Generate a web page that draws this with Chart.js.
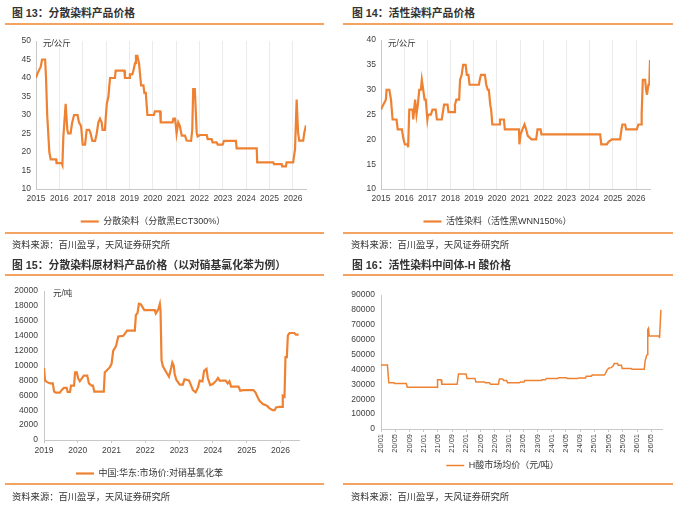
<!DOCTYPE html>
<html>
<head>
<meta charset="utf-8">
<script src="https://cdn.jsdelivr.net/npm/chart.js@4.4.1/dist/chart.umd.min.js"></script>
<style>
body { margin: 0; background: #fff; width: 697px; height: 507px; position: relative; overflow: hidden;
  font-family: 'Liberation Sans', 'Noto Sans CJK SC', sans-serif; color: #333; }
.title { position: absolute; font-size: 10.8px; font-weight: bold; line-height: 16px; white-space: nowrap; color: #333; }
.rule { position: absolute; height: 2px; background: #f3a462; }
.src { position: absolute; font-size: 9.3px; line-height: 14px; white-space: nowrap; color: #333; }
.unit { position: absolute; font-size: 8.5px; line-height: 14px; white-space: nowrap; color: #333; }
.box { position: absolute; }
</style>
</head>
<body>

<div class="title" style="left:12px;top:5px">图 13：分散染料产品价格</div>
<div class="rule" style="left:5px;top:23px;width:319px"></div>
<div class="box" style="left:0;top:30px;width:320px;height:206px"><canvas id="c1"></canvas></div>
<div class="unit" style="left:43px;top:36px">元/公斤</div>
<div class="rule" style="left:5px;top:232px;width:319px"></div>
<div class="src" style="left:12px;top:238px">资料来源：百川盈孚，天风证券研究所</div>

<div class="title" style="left:352px;top:5px">图 14：活性染料产品价格</div>
<div class="rule" style="left:343px;top:23px;width:330px"></div>
<div class="box" style="left:345px;top:30px;width:320px;height:206px"><canvas id="c2"></canvas></div>
<div class="unit" style="left:388px;top:36px">元/公斤</div>
<div class="rule" style="left:343px;top:232px;width:330px"></div>
<div class="src" style="left:351px;top:238px">资料来源：百川盈孚，天风证券研究所</div>

<div class="title" style="left:12px;top:257px">图 15：分散染料原材料产品价格（以对硝基氯化苯为例）</div>
<div class="rule" style="left:5px;top:274px;width:319px"></div>
<div class="box" style="left:0;top:280px;width:320px;height:208px"><canvas id="c3"></canvas></div>
<div class="unit" style="left:53px;top:286px">元/吨</div>
<div class="rule" style="left:5px;top:483px;width:319px"></div>
<div class="src" style="left:12px;top:490px">资料来源：百川盈孚，天风证券研究所</div>

<div class="title" style="left:352px;top:257px">图 16：活性染料中间体-H 酸价格</div>
<div class="rule" style="left:343px;top:274px;width:330px"></div>
<div class="box" style="left:343px;top:280px;width:332px;height:200px"><canvas id="c4"></canvas></div>
<div class="rule" style="left:343px;top:483px;width:330px"></div>
<div class="src" style="left:351px;top:490px">资料来源：百川盈孚，天风证券研究所</div>

<script>
// 图13 分散染料（分散黑ECT300%），元/公斤
const p1Dates = [2015.00, 2015.05, 2015.12, 2015.20, 2015.26, 2015.39, 2015.43, 2015.48, 2015.57, 2015.63,
  2015.86, 2015.88, 2016.10, 2016.13, 2016.17, 2016.27, 2016.34, 2016.38, 2016.48, 2016.55,
  2016.63, 2016.78, 2016.84, 2016.93, 2017.00, 2017.10, 2017.17, 2017.28, 2017.34, 2017.41,
  2017.53, 2017.60, 2017.67, 2017.74, 2017.81, 2017.85, 2017.95, 2018.03, 2018.10, 2018.17,
  2018.38, 2018.41, 2018.78, 2018.81, 2018.99, 2019.02, 2019.12, 2019.17, 2019.24, 2019.28,
  2019.34, 2019.41, 2019.47, 2019.50, 2019.60, 2019.64, 2019.70, 2019.77, 2020.05, 2020.09,
  2020.31, 2020.34, 2020.85, 2020.88, 2020.95, 2020.99, 2021.02, 2021.09, 2021.16, 2021.24,
  2021.38, 2021.45, 2021.64, 2021.69, 2021.73, 2021.80, 2021.88, 2021.92, 2022.02, 2022.31,
  2022.35, 2022.52, 2022.56, 2022.73, 2022.78, 2022.99, 2023.05, 2023.56, 2023.59, 2024.45,
  2024.47, 2025.16, 2025.19, 2025.52, 2025.54, 2025.70, 2025.73, 2026.01, 2026.09, 2026.16,
  2026.22, 2026.27, 2026.44, 2026.49, 2026.56];
const p1Prices = [40, 41, 42, 43, 45, 45, 40, 30, 20, 18,
  18, 17, 17, 16.5, 24, 33, 26, 25, 25, 28,
  30, 30, 28, 27, 22, 22, 26, 26, 25, 23,
  23, 25, 28, 29, 28, 26, 26, 33, 35, 40,
  40, 42, 42, 40, 40, 41, 41, 42, 44, 46,
  46, 44, 40, 38, 38, 36, 36, 30, 30, 31,
  31, 28, 28, 29, 29, 27, 25, 28, 27, 24.4,
  24.4, 23.1, 23, 26, 37, 37, 25.3, 24.2, 24.6, 24.6,
  23.5, 23.5, 22.6, 22.6, 22, 22, 23, 23, 21, 21,
  17.2, 17.2, 16.7, 16.7, 16.1, 16.1, 17.2, 17.2, 20.8, 34.2,
  25.3, 23.1, 23.1, 25.3, 27.2];

// 图14 活性染料（活性黑WNN150%），元/公斤
const p2Dates = [2015.00, 2015.10, 2015.21, 2015.24, 2015.36, 2015.43, 2015.50, 2015.67, 2015.72, 2015.90,
  2015.97, 2016.03, 2016.15, 2016.17, 2016.22, 2016.36, 2016.39, 2016.43, 2016.47, 2016.53,
  2016.59, 2016.65, 2016.72, 2016.76, 2016.82, 2016.88, 2016.93, 2017.00, 2017.03, 2017.15,
  2017.22, 2017.36, 2017.41, 2017.62, 2017.72, 2017.87, 2017.91, 2018.15, 2018.19, 2018.25,
  2018.37, 2018.41, 2018.48, 2018.54, 2018.65, 2018.70, 2018.77, 2018.82, 2019.22, 2019.26,
  2019.31, 2019.48, 2019.54, 2019.60, 2019.65, 2019.71, 2019.75, 2019.80, 2020.09, 2020.13,
  2020.30, 2020.34, 2020.95, 2020.97, 2021.02, 2021.10, 2021.19, 2021.26, 2021.33, 2021.40,
  2021.49, 2021.69, 2021.75, 2021.88, 2021.92, 2024.45, 2024.50, 2024.74, 2024.81, 2024.96,
  2025.31, 2025.37, 2025.41, 2025.53, 2025.57, 2026.03, 2026.10, 2026.22, 2026.24, 2026.29,
  2026.39, 2026.43, 2026.47, 2026.53, 2026.57, 2026.60];
const p2Prices = [26, 27, 28, 30, 30, 28, 24, 24, 22, 22,
  20, 19, 19, 18.4, 26, 26, 24, 26, 28, 25,
  27, 30, 30, 32, 30, 28, 28, 24, 25, 25,
  26, 26, 24, 24, 27, 27, 25.5, 25.5, 27, 28,
  28, 32, 33, 35, 35, 33, 33, 31, 31, 32,
  33, 33, 31, 30, 30, 27, 26, 23, 23, 24,
  24, 22, 22, 19, 21, 22, 23, 22, 20.7, 20.4,
  20, 20, 22, 22, 21, 21, 19, 19, 19.5, 20,
  20, 22, 23, 23, 22, 22, 23, 23, 25, 32,
  32, 30, 29, 31, 31, 36];

// 图15 中国:华东:市场价:对硝基氯化苯，元/吨
const p3Dates = [2019.00, 2019.03, 2019.08, 2019.18, 2019.26, 2019.30, 2019.35, 2019.47, 2019.52, 2019.59,
  2019.67, 2019.70, 2019.77, 2019.80, 2019.89, 2019.92, 2019.97, 2020.01, 2020.06, 2020.11,
  2020.18, 2020.28, 2020.33, 2020.41, 2020.45, 2020.49, 2020.77, 2020.80, 2020.85, 2020.95,
  2021.00, 2021.05, 2021.13, 2021.20, 2021.35, 2021.46, 2021.69, 2021.72, 2021.77, 2021.81,
  2021.87, 2021.97, 2022.28, 2022.31, 2022.38, 2022.43, 2022.45, 2022.48, 2022.52, 2022.62,
  2022.70, 2022.77, 2022.80, 2022.84, 2022.87, 2022.92, 2023.02, 2023.11, 2023.16, 2023.29,
  2023.33, 2023.41, 2023.49, 2023.56, 2023.61, 2023.69, 2023.74, 2023.81, 2023.85, 2023.92,
  2024.00, 2024.10, 2024.15, 2024.20, 2024.38, 2024.44, 2024.49, 2024.54, 2024.76, 2024.81,
  2024.89, 2025.20, 2025.26, 2025.33, 2025.38, 2025.48, 2025.60, 2025.67, 2025.77, 2025.83,
  2025.87, 2025.97, 2026.05, 2026.07, 2026.12, 2026.15, 2026.19, 2026.22, 2026.27, 2026.41,
  2026.46, 2026.54];
const p3Prices = [9700, 8000, 7800, 7600, 7600, 6500, 6350, 6350, 6700, 7000,
  7000, 6450, 6450, 7300, 7300, 9100, 9100, 8300, 7900, 8200,
  8650, 8650, 7600, 7300, 7300, 6500, 6500, 9100, 9300, 9780,
  10230, 12000, 12570, 13900, 14000, 14700, 14700, 16760, 17070, 18300,
  18200, 17450, 17450, 17000, 17500, 18300, 17400, 10700, 9900, 9100,
  8500, 9780, 10400, 10000, 8870, 8060, 7430, 7430, 8150, 8000,
  7600, 6700, 6400, 7070, 7970, 7880, 9300, 9550, 8330, 7390,
  7520, 7970, 8330, 7970, 7970, 7600, 7880, 7160, 7160, 6620,
  6700, 6700, 6400, 5720, 5270, 4820, 4600, 4280, 4010, 4010,
  4370, 4460, 4460, 5950, 5810, 11130, 11130, 14050, 14370, 14370,
  14150, 14150];

// 图16 H酸市场均价（元/吨），横轴为自2020年1月起的月数
const p4Months = [0, 1.8, 2.2, 3.6, 3.8, 7.1, 7.4, 15.8, 15.9, 16.9,
  17.1, 21.4, 21.8, 23.9, 24.2, 26.4, 26.7, 29.1, 29.3, 30.5,
  30.8, 33.0, 33.3, 34.2, 34.5, 35.3, 35.6, 38.9, 39.2, 40.2,
  40.4, 45.0, 45.3, 46.2, 46.5, 49.7, 50.0, 52.1, 52.4, 55.3,
  55.6, 57.5, 57.7, 59.1, 59.4, 62.8, 63.1, 63.5, 64.0, 64.7,
  65.2, 65.6, 66.5, 66.7, 67.6, 67.8, 70.3, 70.6, 74.0, 74.3,
  74.7, 74.9, 75.0, 75.2, 75.4, 78.2, 78.3, 78.7];
const p4Prices = [43000, 43000, 31000, 31000, 30500, 30500, 28000, 28000, 33000, 33000,
  30000, 30000, 37000, 37000, 34000, 34000, 31500, 31500, 31000, 31000,
  30000, 30000, 33500, 33500, 32500, 32500, 31000, 31000, 31500, 31500,
  32500, 32500, 33000, 33000, 34000, 34000, 34500, 34500, 34000, 34000,
  34300, 34300, 35500, 35500, 36200, 36200, 37200, 39400, 40800, 41200,
  42100, 44000, 44000, 42800, 42800, 40600, 40600, 40100, 40100, 46200,
  49500, 50000, 66900, 67700, 62500, 62500, 61000, 80000];

const seriesNames = ['分散染料（分散黑ECT300%）', '活性染料（活性黑WNN150%）', '中国:华东:市场价:对硝基氯化苯', 'H酸市场均价（元/吨）'];

const ORANGE = '#ee8232';
const AXIS = '#c8c8c8';
const GRID = '#ebebeb';
const TEXT = '#404040';
const FONT = "'Liberation Sans', 'Noto Sans CJK SC', sans-serif";

Chart.defaults.font.family = FONT;
Chart.defaults.font.size = 8.5;
Chart.defaults.color = TEXT;
Chart.defaults.animation = false;

function points(xs, ys) {
  return xs.map((x, i) => ({ x: x, y: ys[i] }));
}

function makeChart(id, opt) {
  new Chart(document.getElementById(id).getContext('2d'), {
    type: 'line',
    data: {
      datasets: [{
        label: opt.label,
        data: opt.data,
        borderColor: ORANGE,
        backgroundColor: ORANGE,
        borderWidth: opt.lineWidth,
        pointRadius: 0,
        pointStyle: 'line',
        tension: 0
      }]
    },
    options: {
      responsive: true,
      maintainAspectRatio: false,
      layout: { padding: opt.padding },
      plugins: {
        legend: {
          position: 'bottom',
          labels: { usePointStyle: true, pointStyleWidth: 18, padding: opt.legendPad, color: '#333', font: { size: 9 } }
        },
        tooltip: { enabled: false }
      },
      scales: {
        x: Object.assign({
          type: 'linear',
          afterFit: s => { s.height = opt.xHeight; }
        }, opt.x),
        y: Object.assign({
          afterFit: s => { s.width = opt.yWidth; }
        }, opt.y)
      }
    }
  });
}

const yearTick = v => Number.isInteger(v) ? String(v) : '';

// 图13
makeChart('c1', {
  label: seriesNames[0],
  data: points(p1Dates, p1Prices),
  lineWidth: 2.2,
  padding: { top: 11, right: 14, left: 0, bottom: 0 },
  legendPad: 8, xHeight: 20, yWidth: 36,
  x: {
    min: 2015, max: 2026.56,
    border: { color: AXIS },
    grid: { color: GRID, drawTicks: false },
    ticks: { stepSize: 1, includeBounds: false, autoSkip: false, padding: 5, maxRotation: 0, callback: yearTick }
  },
  y: {
    min: 10, max: 50,
    border: { color: AXIS },
    grid: { display: false, drawTicks: false },
    ticks: { stepSize: 5, autoSkip: false, padding: 5 }
  }
});

// 图14
makeChart('c2', {
  label: seriesNames[1],
  data: points(p2Dates, p2Prices),
  lineWidth: 2.2,
  padding: { top: 9, right: 15, left: 0, bottom: 0 },
  legendPad: 8, xHeight: 20, yWidth: 36,
  x: {
    min: 2015, max: 2026.6,
    border: { color: AXIS },
    grid: { color: GRID, drawTicks: false },
    ticks: { stepSize: 1, includeBounds: false, autoSkip: false, padding: 5, maxRotation: 0, callback: yearTick }
  },
  y: {
    min: 10, max: 40,
    border: { color: AXIS },
    grid: { display: false, drawTicks: false },
    ticks: { stepSize: 5, autoSkip: false, padding: 5 }
  }
});

// 图15
makeChart('c3', {
  label: seriesNames[2],
  data: points(p3Dates, p3Prices),
  lineWidth: 2.2,
  padding: { top: 11, right: 21, left: 0, bottom: 0 },
  legendPad: 9, xHeight: 20, yWidth: 44,
  x: {
    min: 2019, max: 2026.55,
    border: { color: AXIS },
    grid: { drawOnChartArea: false, color: AXIS, tickLength: 3 },
    ticks: { stepSize: 1, includeBounds: false, autoSkip: false, padding: 3, maxRotation: 0, callback: yearTick }
  },
  y: {
    min: 0, max: 20000,
    border: { color: AXIS },
    grid: { display: false, drawTicks: false },
    ticks: { stepSize: 2000, autoSkip: false, padding: 6, callback: v => String(v) }
  }
});

// 图16
const monthTick = v => {
  if (!Number.isInteger(v)) return '';
  const yy = 20 + Math.floor(v / 12);
  const mm = v % 12 + 1;
  return yy + '/' + (mm < 10 ? '0' + mm : mm);
};

makeChart('c4', {
  label: seriesNames[3],
  data: points(p4Months, p4Prices),
  lineWidth: 1.5,
  padding: { top: 15, right: 13, left: 0, bottom: 0 },
  legendPad: 8, xHeight: 24, yWidth: 38,
  x: {
    min: 0, max: 79,
    border: { color: AXIS },
    grid: { drawOnChartArea: false, color: AXIS, tickLength: 3 },
    ticks: { stepSize: 4, includeBounds: false, autoSkip: false, padding: 2, minRotation: 90, maxRotation: 90, font: { size: 7.5 }, callback: monthTick }
  },
  y: {
    min: 0, max: 90000,
    border: { color: AXIS },
    grid: { display: false, drawTicks: false },
    ticks: { stepSize: 10000, autoSkip: false, padding: 6, callback: v => String(v) }
  }
});
</script>
</body>
</html>
